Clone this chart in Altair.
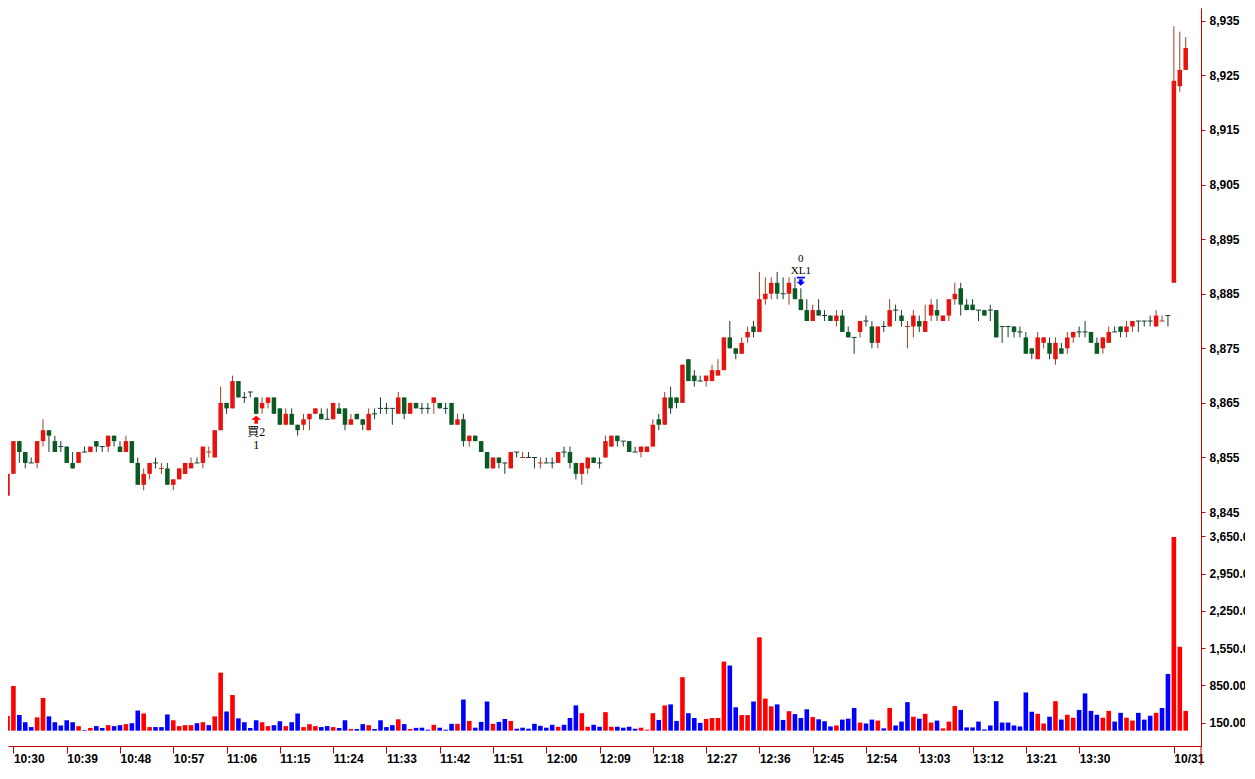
import altair as alt
import pandas as pd

# ---------------- values ----------------
# bar index = minutes after 10:30 (index 196-198 are the 10/31 session bars)
BAR_INDEX = list(range(-1, 199))

OPEN = [
    8848, 8852, 8858, 8856, 8854, 8854, 8858, 8860, 8858, 8857,
    8857, 8854, 8854, 8856, 8856, 8858, 8857, 8857, 8859, 8857,
    8856, 8858, 8854, 8850, 8852, 8854, 8853, 8853, 8850, 8851,
    8852, 8853, 8854, 8854, 8856, 8855, 8860, 8865, 8864, 8869,
    8866, 8867, 8866, 8864, 8865, 8866, 8864, 8861, 8863, 8861,
    8861, 8862, 8863, 8863, 8862, 8862, 8864, 8864, 8861, 8863,
    8862, 8860, 8863, 8864, 8864, 8864, 8863, 8866, 8863, 8865,
    8864, 8864, 8865, 8865, 8864, 8865, 8861, 8862, 8858, 8859,
    8858, 8856, 8853, 8855, 8854, 8853, 8856, 8855, 8855, 8855,
    8854, 8854, 8854, 8854, 8856, 8856, 8854, 8852, 8853, 8855,
    8854, 8855, 8857, 8859, 8858, 8858, 8856, 8856, 8856, 8857,
    8862, 8861, 8866, 8866, 8865, 8873, 8870, 8869, 8869, 8869,
    8870, 8871, 8877, 8875, 8874, 8877, 8879, 8878, 8884, 8885,
    8887, 8885, 8885, 8886, 8884, 8882, 8880, 8882, 8881, 8881,
    8880, 8881, 8878, 8877, 8878, 8880, 8879, 8876, 8879, 8879,
    8882, 8881, 8879, 8879, 8880, 8878, 8881, 8882, 8880, 8881,
    8884, 8886, 8883, 8883, 8882, 8882, 8882, 8882, 8879, 8879,
    8879, 8878, 8877, 8875, 8873, 8876, 8876, 8873, 8875, 8875,
    8877, 8878, 8878, 8878, 8876, 8875, 8876, 8878, 8879, 8878,
    8879, 8880, 8880, 8880, 8879, 8880, 8881, 8887, 8923, 8926,
]
HIGH = [
    8852, 8858, 8858, 8856, 8855, 8858, 8862, 8860, 8859, 8858,
    8857, 8856, 8856, 8857, 8857, 8858, 8857, 8859, 8859, 8858,
    8859, 8858, 8855, 8853, 8854, 8855, 8854, 8854, 8851, 8853,
    8854, 8855, 8855, 8857, 8857, 8860, 8868, 8865, 8870, 8869,
    8867, 8867, 8866, 8866, 8866, 8866, 8864, 8864, 8864, 8861,
    8863, 8863, 8864, 8864, 8864, 8865, 8865, 8864, 8863, 8863,
    8862, 8864, 8864, 8866, 8865, 8864, 8867, 8866, 8865, 8865,
    8865, 8865, 8866, 8865, 8865, 8865, 8863, 8863, 8859, 8859,
    8858, 8856, 8855, 8855, 8854, 8856, 8856, 8856, 8856, 8855,
    8855, 8855, 8855, 8856, 8857, 8857, 8854, 8854, 8855, 8855,
    8855, 8859, 8859, 8859, 8858, 8858, 8857, 8857, 8857, 8862,
    8863, 8867, 8868, 8866, 8872, 8873, 8871, 8870, 8870, 8872,
    8873, 8877, 8880, 8875, 8877, 8879, 8880, 8889, 8888, 8888,
    8889, 8888, 8888, 8888, 8886, 8884, 8883, 8884, 8882, 8881,
    8882, 8882, 8879, 8877, 8880, 8881, 8880, 8879, 8880, 8884,
    8883, 8882, 8880, 8882, 8881, 8883, 8884, 8884, 8881, 8884,
    8887, 8887, 8884, 8884, 8882, 8882, 8883, 8882, 8879, 8879,
    8879, 8879, 8878, 8875, 8878, 8877, 8877, 8877, 8876, 8878,
    8878, 8879, 8880, 8878, 8877, 8877, 8879, 8879, 8879, 8880,
    8880, 8880, 8880, 8881, 8882, 8881, 8881, 8934, 8933, 8932,
]
LOW = [
    8848, 8852, 8854, 8853, 8854, 8853, 8857, 8856, 8856, 8856,
    8854, 8853, 8854, 8856, 8856, 8856, 8856, 8856, 8857, 8856,
    8856, 8854, 8850, 8849, 8851, 8853, 8852, 8850, 8849, 8851,
    8852, 8853, 8854, 8853, 8855, 8855, 8860, 8863, 8864, 8866,
    8865, 8866, 8863, 8863, 8864, 8863, 8861, 8861, 8861, 8859,
    8860, 8860, 8863, 8862, 8862, 8862, 8863, 8860, 8861, 8862,
    8860, 8860, 8862, 8863, 8863, 8861, 8863, 8862, 8863, 8864,
    8863, 8863, 8863, 8864, 8863, 8861, 8861, 8857, 8857, 8858,
    8856, 8853, 8853, 8853, 8852, 8853, 8855, 8855, 8855, 8853,
    8853, 8854, 8853, 8854, 8855, 8853, 8851, 8850, 8852, 8854,
    8853, 8855, 8857, 8857, 8857, 8856, 8856, 8855, 8856, 8857,
    8860, 8861, 8863, 8864, 8865, 8869, 8868, 8869, 8868, 8869,
    8870, 8871, 8875, 8873, 8874, 8876, 8877, 8878, 8883, 8884,
    8884, 8884, 8883, 8884, 8882, 8880, 8880, 8881, 8880, 8880,
    8879, 8878, 8877, 8874, 8877, 8879, 8875, 8875, 8878, 8879,
    8880, 8879, 8875, 8877, 8878, 8878, 8880, 8880, 8880, 8880,
    8883, 8881, 8882, 8882, 8880, 8881, 8880, 8877, 8876, 8877,
    8877, 8877, 8874, 8873, 8873, 8875, 8873, 8872, 8874, 8874,
    8876, 8877, 8877, 8876, 8874, 8874, 8876, 8878, 8877, 8877,
    8878, 8878, 8879, 8879, 8879, 8880, 8879, 8887, 8922, 8926,
]
CLOSE = [
    8852, 8858, 8856, 8854, 8854, 8858, 8860, 8859, 8856, 8857,
    8854, 8853, 8856, 8856, 8857, 8857, 8857, 8859, 8858, 8856,
    8858, 8854, 8850, 8852, 8854, 8854, 8853, 8850, 8851, 8853,
    8854, 8854, 8854, 8857, 8856, 8860, 8865, 8864, 8869, 8866,
    8866, 8867, 8863, 8865, 8866, 8863, 8861, 8863, 8861, 8860,
    8862, 8863, 8864, 8862, 8862, 8865, 8863, 8861, 8862, 8862,
    8861, 8863, 8863, 8864, 8864, 8864, 8866, 8863, 8865, 8864,
    8864, 8864, 8866, 8864, 8864, 8861, 8862, 8858, 8859, 8858,
    8856, 8853, 8855, 8854, 8854, 8856, 8856, 8855, 8855, 8855,
    8854, 8854, 8854, 8856, 8856, 8854, 8852, 8854, 8855, 8854,
    8854, 8858, 8859, 8858, 8858, 8856, 8856, 8857, 8857, 8861,
    8861, 8866, 8864, 8865, 8872, 8869, 8869, 8869, 8870, 8871,
    8871, 8877, 8875, 8874, 8876, 8878, 8878, 8884, 8885, 8887,
    8885, 8885, 8887, 8884, 8882, 8880, 8882, 8881, 8881, 8880,
    8881, 8878, 8877, 8877, 8880, 8880, 8876, 8879, 8879, 8882,
    8882, 8880, 8879, 8881, 8879, 8880, 8883, 8881, 8881, 8884,
    8885, 8883, 8882, 8882, 8882, 8881, 8882, 8877, 8879, 8879,
    8878, 8878, 8874, 8874, 8877, 8877, 8874, 8876, 8874, 8877,
    8878, 8878, 8878, 8876, 8874, 8877, 8878, 8878, 8878, 8879,
    8880, 8880, 8880, 8880, 8881, 8880, 8881, 8924, 8926, 8930,
]
# crosses (open == close) that are drawn in red in the reference
RED_DOJI = [25, 33, 86, 89, 151, 194]

VOLUME = [
    274, 839, 292, 158, 67, 249, 614, 268, 158, 97,
    195, 158, 85, 12, 49, 85, 49, 103, 85, 103,
    122, 140, 377, 322, 67, 67, 67, 304, 195, 85,
    103, 103, 140, 158, 103, 268, 1089, 359, 669, 231,
    158, 49, 195, 158, 85, 103, 176, 85, 158, 322,
    67, 122, 85, 67, 85, 67, 49, 195, 30, 30,
    122, 103, 30, 195, 67, 103, 213, 122, 30, 52,
    55, 18, 110, 55, 18, 128, 128, 584, 182, 55,
    164, 547, 128, 164, 219, 182, 36, 55, 36, 128,
    91, 55, 110, 73, 110, 237, 474, 328, 73, 110,
    73, 347, 73, 73, 55, 73, 36, 55, 18, 328,
    201, 474, 493, 182, 1004, 328, 237, 146, 219, 237,
    237, 1296, 1223, 438, 292, 292, 547, 1752, 602, 456,
    493, 201, 365, 310, 237, 401, 255, 213, 176, 79,
    97, 207, 225, 426, 152, 134, 207, 189, 43, 426,
    97, 170, 535, 261, 225, 316, 152, 189, 43, 170,
    462, 389, 61, 61, 170, 24, 97, 553, 152, 152,
    97, 79, 717, 353, 316, 134, 261, 553, 207, 298,
    243, 389, 699, 371, 298, 243, 371, 170, 334, 243,
    189, 334, 207, 280, 334, 426, 1064, 3636, 1575, 371,
]
# r = red (up) volume bar, b = blue (down) volume bar
VOLUME_SIDE = (
    "rrbbbrrbbb" "bbrbrbbrbb" "rbbrrbbbrr" "rrbrbrrbrb" "bbbrrbbrbb"
    "rrrbbrbbrb" "brbbbbrbrb" "bbrbbbrbrb" "bbrbbrbbbb" "bbbrbbbrrb"
    "brrbbbbrrr" "brbbrbbbrr" "rrbbrrbrrr" "bbrbbbrbbb" "rbbbrbbrbr"
    "bbbrbrrbrr" "rbbbbbbbbb" "bbbbrrbrbr" "rbbbbrrbbr" "rbbbrbbrrr"
)

X_TICKS = [0, 9, 18, 27, 36, 45, 54, 63, 72, 81, 90, 99, 108, 117, 126,
           135, 144, 153, 162, 171, 180, 196]
X_LABELS = ["10:30", "10:39", "10:48", "10:57", "11:06", "11:15", "11:24",
            "11:33", "11:42", "11:51", "12:00", "12:09", "12:18", "12:27",
            "12:36", "12:45", "12:54", "13:03", "13:12", "13:21", "13:30",
            "10/31"]
PRICE_TICKS = [8845, 8855, 8865, 8875, 8885, 8895, 8905, 8915, 8925, 8935]
VOLUME_TICKS = [150, 850, 1550, 2250, 2950, 3650]

SIGNAL_BAR = [41, 133]
SIGNAL_NAME = ["買2", "XL1"]
SIGNAL_QTY = ["1", "0"]

# ---------------- styling / layout ----------------
W, H = 1193, 738
X_DOMAIN = [-0.9167, 200.583]
PRICE_DOMAIN = [8802.15, 8937.34]
VOLUME_DOMAIN = [-288.5, 13570]

UP_BODY = "#E5140F"
DOWN_BODY = "#0A5A24"
UP_WICK = "#A13E22"
DOWN_WICK = "#143F31"
VOL_UP = "#FF0000"
VOL_DOWN = "#0000FF"
AXIS_RED = "#C40000"
LABEL_FONT = "Liberation Sans"
SIGNAL_FONT = "Liberation Serif, Noto Sans CJK TC"

rows = []
for i, k in enumerate(BAR_INDEX):
    o, h, l, c = OPEN[i], HIGH[i], LOW[i], CLOSE[i]
    if c > o:
        body, wick = UP_BODY, UP_WICK
    elif c < o:
        body, wick = DOWN_BODY, DOWN_WICK
    else:
        body = wick = UP_WICK if k in RED_DOJI else DOWN_WICK
    rows.append(dict(k=k, open=o, high=h, low=l, close=c, doji=bool(o == c),
                     body=body, wick=wick, vol=VOLUME[i],
                     vcol=VOL_UP if VOLUME_SIDE[i] == "r" else VOL_DOWN))
df = pd.DataFrame(rows)

sig_rows = []
for j, k in enumerate(SIGNAL_BAR):
    i = BAR_INDEX.index(k)
    sig_rows.append(dict(k=k, name=SIGNAL_NAME[j], qty=SIGNAL_QTY[j],
                         low=LOW[i], high=HIGH[i]))
sig = pd.DataFrame(sig_rows)
buy = sig[sig["name"] == "買2"]
exit_ = sig[sig["name"] == "XL1"]

label_expr = "".join(f"datum.value == {p} ? '{t}' : " for p, t in zip(X_TICKS, X_LABELS)) + "''"

xs = alt.Scale(domain=X_DOMAIN, nice=False, zero=False, padding=0)
ps = alt.Scale(domain=PRICE_DOMAIN, nice=False, zero=False, padding=0)
vs = alt.Scale(domain=VOLUME_DOMAIN, nice=False, zero=False, padding=0)

x_axis = alt.Axis(values=X_TICKS, labelExpr=label_expr, title=None, grid=False,
                  tickSize=7, labelPadding=0, labelAlign="left", labelFlush=False,
                  labelOverlap=False)
price_axis = alt.Axis(orient="right", values=PRICE_TICKS, format=",d", title=None,
                      grid=False, tickSize=4, labelPadding=4, labelOverlap=False,
                      labelFlush=False)
vol_axis = alt.Axis(orient="right", values=VOLUME_TICKS, format=",.2f", title=None,
                    grid=False, tickSize=4, labelPadding=4, labelOverlap=False,
                    labelFlush=False)

X = alt.X("k:Q", scale=xs, axis=x_axis)


def PY(field):
    return alt.Y(field, type="quantitative", scale=ps, axis=price_axis)


wicks = alt.Chart(df).mark_rule(strokeWidth=1, clip=True).encode(
    x=X, y=PY("low"), y2="high:Q",
    color=alt.Color("wick:N", scale=None),
)
bodies = alt.Chart(df).transform_filter("!datum.doji").mark_bar(size=4.5, clip=True).encode(
    x=X, y=PY("open"), y2="close:Q",
    color=alt.Color("body:N", scale=None),
)
dojis = alt.Chart(df).transform_filter("datum.doji").mark_rule(
    strokeWidth=1, xOffset=-2.5, x2Offset=2.5, clip=True).encode(
    x=X, x2="k:Q", y=PY("open"),
    color=alt.Color("wick:N", scale=None),
)

UP_ARROW = "M0,-0.8L1,0L0.35,0L0.35,0.8L-0.35,0.8L-0.35,0L-1,0Z"
DOWN_ARROW = ("M-0.9,-1L0.9,-1L0.9,-0.6L-0.9,-0.6Z"
              "M-0.4,-0.45L0.4,-0.45L0.4,0.1L0.95,0.1L0,1L-0.95,0.1L-0.4,0.1Z")

buy_arrow = alt.Chart(buy).mark_point(shape=UP_ARROW, size=100, filled=True,
                                      color="#FF0000", opacity=1, strokeWidth=0,
                                      yOffset=6).encode(x=X, y=PY("low"))
buy_text = alt.Chart(buy).mark_text(dy=18, font=SIGNAL_FONT, fontSize=12,
                                    color="#000000").encode(x=X, y=PY("low"), text="name:N")
buy_qty = alt.Chart(buy).mark_text(dy=31, font=SIGNAL_FONT, fontSize=12,
                                   color="#000000").encode(x=X, y=PY("low"), text="qty:N")

exit_arrow = alt.Chart(exit_).mark_point(shape=DOWN_ARROW, size=81, filled=True,
                                         color="#0000FF", opacity=1, strokeWidth=0,
                                         yOffset=-7).encode(x=X, y=PY("high"))
exit_text = alt.Chart(exit_).mark_text(dy=-17, font=SIGNAL_FONT, fontSize=11,
                                       color="#000000").encode(x=X, y=PY("high"), text="name:N")
exit_qty = alt.Chart(exit_).mark_text(dy=-29, font=SIGNAL_FONT, fontSize=11,
                                      color="#000000").encode(x=X, y=PY("high"), text="qty:N")

price = alt.layer(wicks, bodies, dojis, buy_arrow, buy_text, buy_qty,
                  exit_arrow, exit_text, exit_qty)

volume = alt.Chart(df).mark_bar(size=4.6, clip=True).encode(
    x=X,
    y=alt.Y("vol:Q", scale=vs, axis=vol_axis),
    y2=alt.datum(0),
    color=alt.Color("vcol:N", scale=None),
)

axis_tail = alt.Chart(alt.Data(values=[{"a": 1}])).mark_rule(
    color=AXIS_RED, strokeWidth=1).encode(
    x=alt.value(W), y=alt.value(H), y2=alt.value(H + 19))

chart = alt.layer(price, volume, axis_tail).resolve_scale(y="independent").properties(
    width=W, height=H,
    autosize=alt.AutoSizeParams(type="none"),
    padding={"left": 0, "top": 0, "right": 44, "bottom": 19},
    background="#FFFFFF",
).configure_view(
    stroke="transparent"
).configure_axis(
    domainColor=AXIS_RED, tickColor=AXIS_RED, domainWidth=1, tickWidth=1,
    labelFont=LABEL_FONT, labelFontSize=12, labelFontWeight="bold",
    labelColor="#000000",
)

chart.save("out.html", embed_options={"renderer": "svg", "actions": False})
